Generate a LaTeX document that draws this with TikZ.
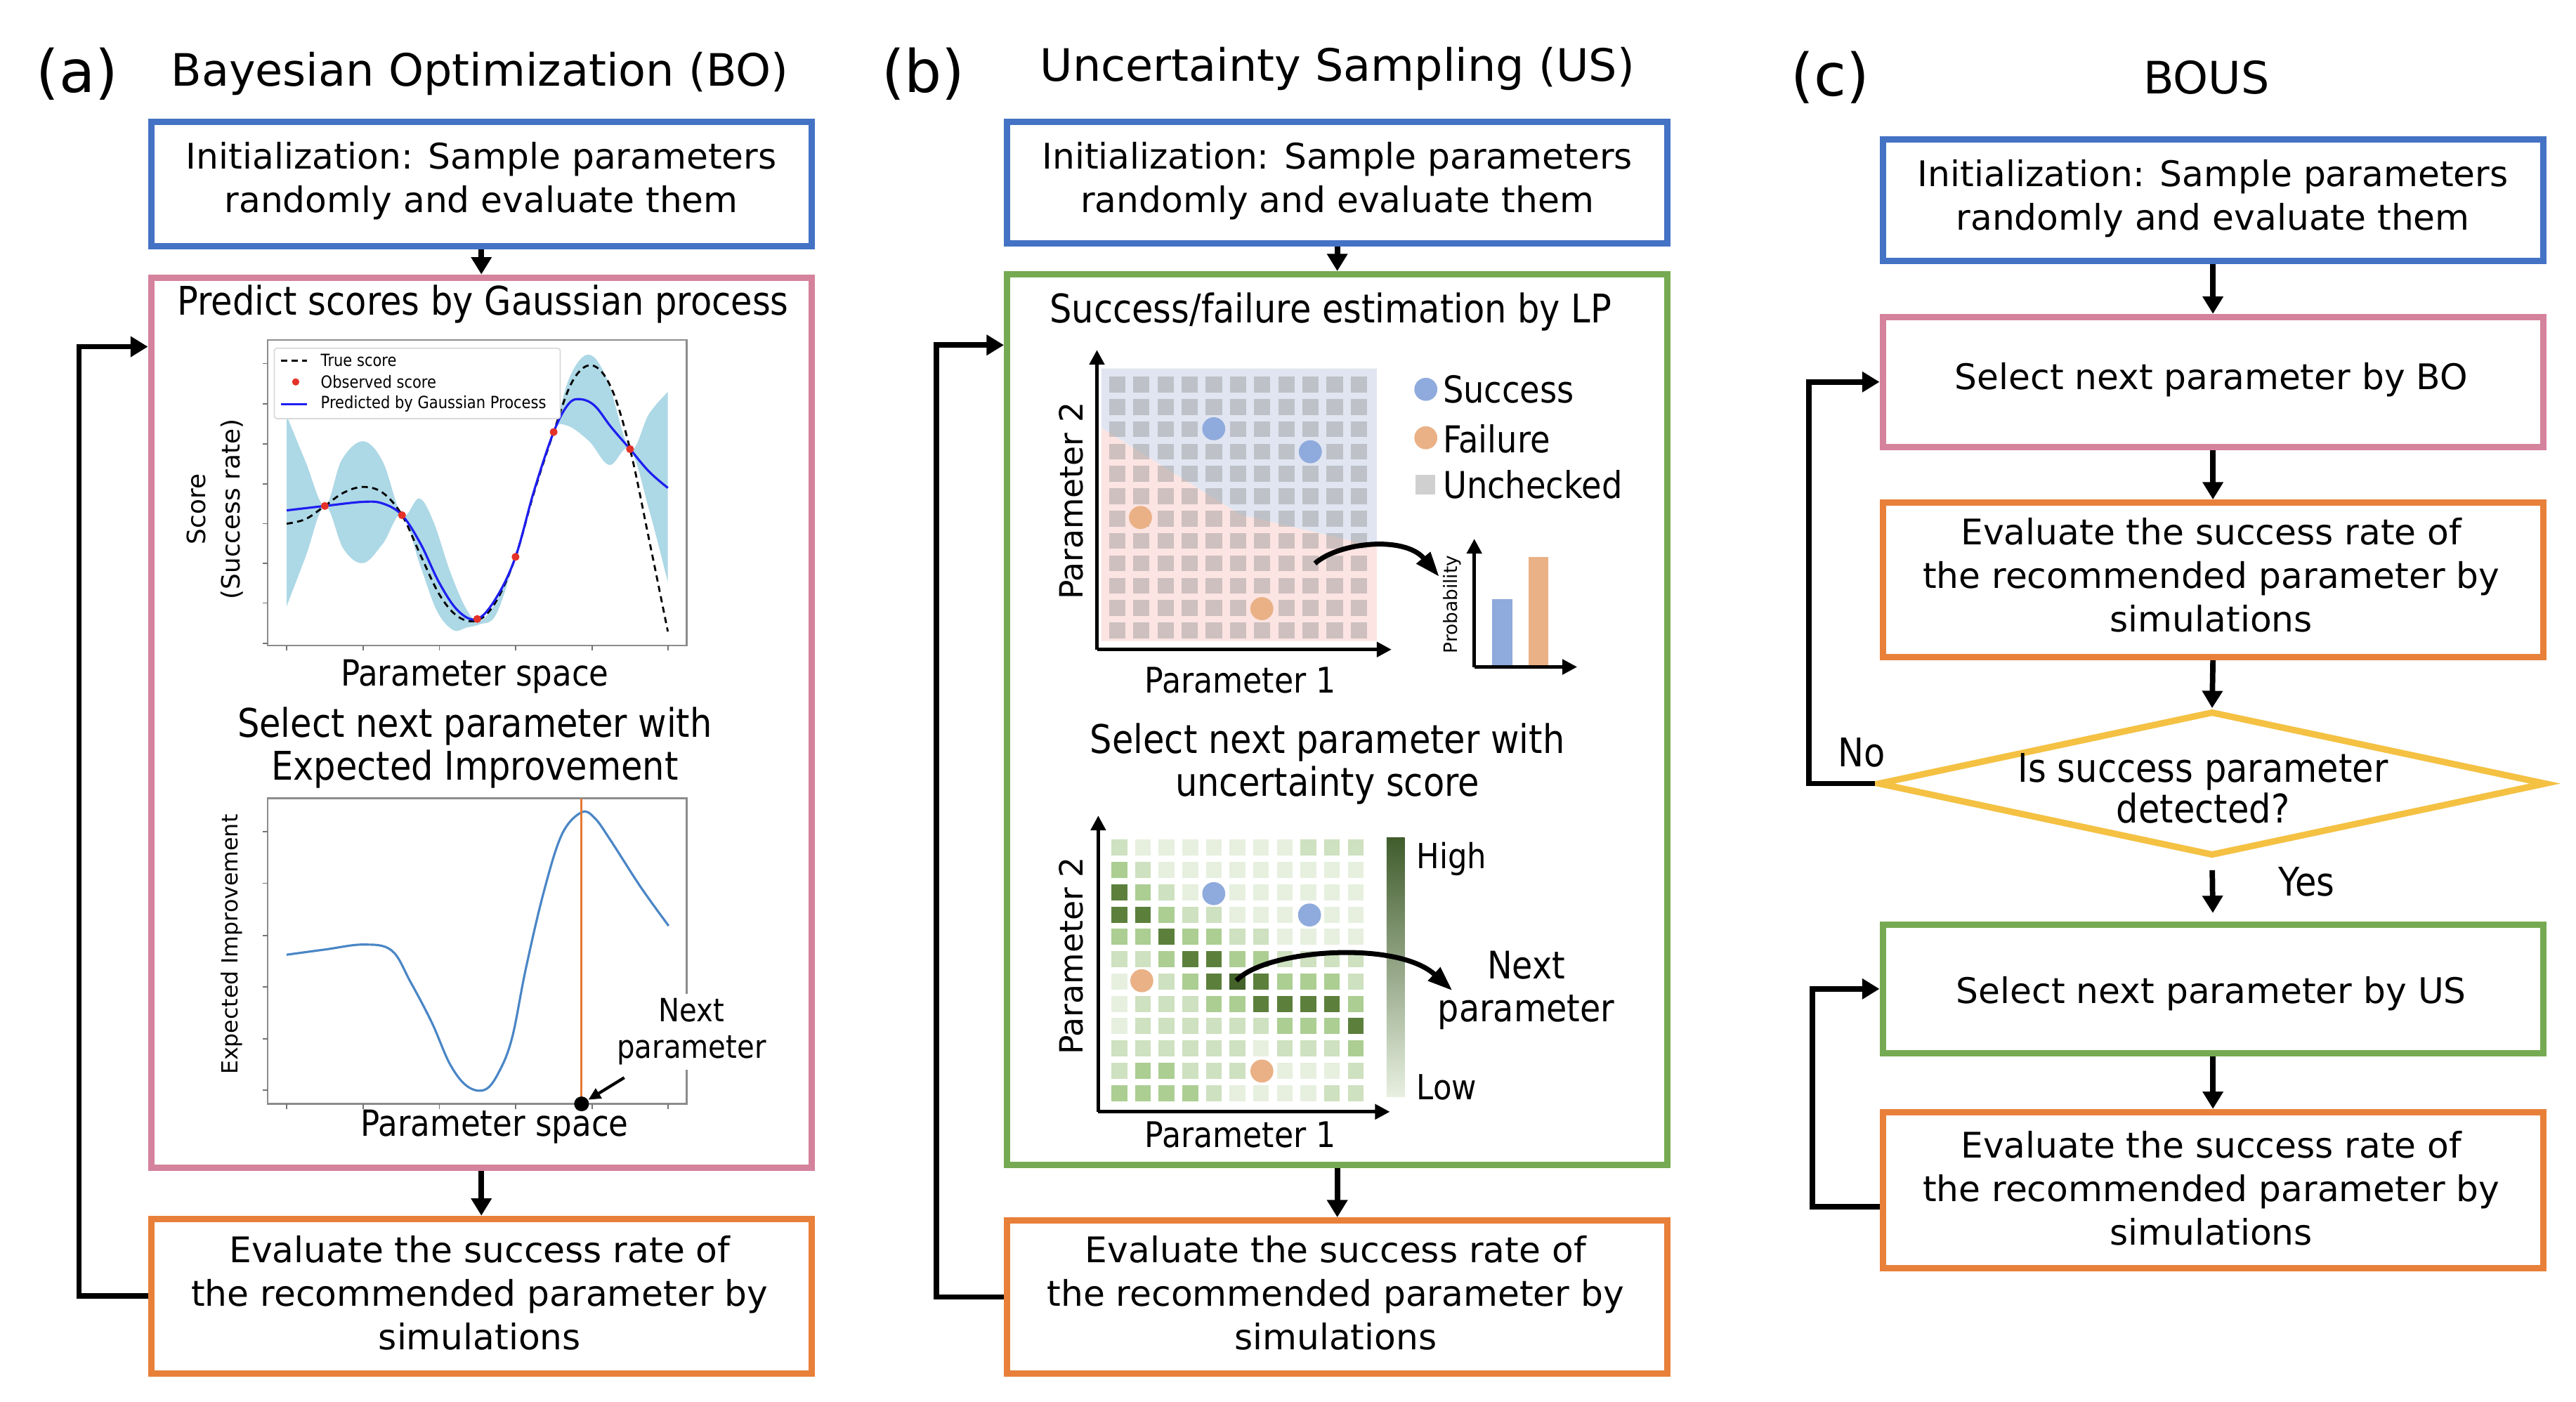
\documentclass[tikz,border=0pt]{standalone}
\usepackage{fontspec}
\setmainfont{DejaVu Sans}
\newfontfamily\tah[FakeStretch=0.88]{DejaVu Sans}
\usetikzlibrary{shapes.geometric,arrows.meta,fit,calc}
\newlength\pxu
\setlength\pxu{0.02339cm}
\newcommand\fsz[2]{\fontsize{#1}{#2}\selectfont}
\definecolor{cblue}{RGB}{68,114,196}
\definecolor{cpink}{RGB}{213,130,156}
\definecolor{cgreen}{RGB}{118,170,82}
\definecolor{corange}{RGB}{232,128,58}
\definecolor{cyellow}{RGB}{244,193,67}
\definecolor{bandc}{RGB}{173,216,230}
\definecolor{gpblue}{RGB}{30,30,240}
\definecolor{gpred}{RGB}{228,50,40}
\definecolor{eiblue}{RGB}{74,134,198}
\definecolor{eiorange}{RGB}{230,120,50}
\definecolor{bgblue}{RGB}{224,229,241}
\definecolor{bgpink}{RGB}{251,228,226}
\definecolor{sqgray}{RGB}{150,150,150}
\definecolor{sblue}{RGB}{143,170,220}
\definecolor{forange}{RGB}{234,177,134}
\definecolor{unch}{RGB}{208,208,208}
\definecolor{g0}{RGB}{231,240,223}
\definecolor{g1}{RGB}{206,225,192}
\definecolor{g2}{RGB}{172,206,146}
\definecolor{g3}{RGB}{92,128,60}
\definecolor{g4}{RGB}{68,99,42}
\definecolor{cbtop}{RGB}{64,92,44}
\definecolor{cbmid}{RGB}{112,160,72}
\definecolor{cbbot}{RGB}{232,240,225}
\tikzset{
  box/.style={draw, line width=2.6pt, inner sep=0pt},
  arr/.style={line width=2.2pt, -{Triangle[length=7pt,width=8pt]}},
  btxt/.style={align=center, inner sep=0pt, font=\fsz{14.3}{17.6}},
  ttxt/.style={align=center, inner sep=0pt, font=\tah\fsz{16}{17.3}},
  ttl/.style={inner sep=0pt, font=\fsz{18.1}{22}},
  plab/.style={inner sep=0pt, font=\fsz{23.8}{28}},
  frm/.style={draw=black!45, line width=0.7pt},
  tck/.style={black!55, line width=0.5pt},
  axisarr/.style={line width=1.4pt, -{Triangle[length=6pt,width=6pt]}},
  carr/.style={line width=2pt, -{Triangle[length=10pt,width=7pt]}},
  sdot/.style={circle, fill=sblue, minimum size=14*\pxu, inner sep=0pt},
  fdot/.style={circle, fill=forange, minimum size=14*\pxu, inner sep=0pt},
}
\begin{document}
\begin{tikzpicture}[x=0.02339cm,y=-0.02339cm]
\useasboundingbox (0,0) rectangle (1568,853.4);
\fill[white] (0,0) rectangle (1568,853.4);

% ---------------- titles
\node[plab] (la) at (47,45) {(a)};
\node[ttl] (ta) at (292,45) {Bayesian Optimization (BO)};
\node[plab] (lb) at (562,45) {(b)};
\node[ttl] (tb) at (814,42) {Uncertainty Sampling (US)};
\node[plab] (lc) at (1114,47) {(c)};
\node[ttl] (tc) at (1343,47) {BOUS};

% ---------------- panel (a)
\node[box, draw=cblue, fit={(92,74) (494,150)}] (ia) {};
\node[btxt] (iat) at (293,110) {Initialization: Sample parameters\\randomly and evaluate them};
\node[box, draw=cpink, fit={(92,169) (494,711)}] (pa) {};
\node[box, draw=corange, fit={(92,742) (494,836)}] (oa) {};
\node[btxt] (oat) at (292,787) {Evaluate the success rate of\\the recommended parameter by\\simulations};
\draw[arr] (ia.south) -- (pa.north);
\draw[arr] (pa.south) -- (oa.north);
\draw[arr] (oa.west) -- ++(-42,0) |- ($(pa.north west)+(0,44)$);

\node[ttxt] (pat1) at (294,185) {Predict scores by Gaussian process};
% plot 1
\fill[bandc] plot[smooth,tension=0.6] coordinates {(174.5,253) (186,281) (197.7,308) (208,280) (221,268.6) (233,281) (244.7,313.6) (255.2,303.4) (264,318) (274,348) (284,371) (292,378) (302,366) (313.8,339) (325,298) (337,263) (347,229) (358.6,215.9) (370,232) (383.5,273.4) (395,252) (406.5,238.6)}
  -- plot[smooth,tension=0.6] coordinates {(406.5,354.4) (395,310) (383.5,273.4) (370.9,283.1) (358.6,268.6) (345,259) (337,263) (325,300) (313.8,339) (302,374) (292,380) (284,382) (275.9,383.6) (266,372) (256,345) (244.7,313.6) (233,331) (221,342.8) (209,334) (197.7,308) (186,339) (174.5,369)} -- cycle;
\draw[frm] (163,207) rectangle (418,393);
\foreach \tx in {174.5,221,267.5,313.8,360.3,406.5} \draw[tck] (\tx,393) -- (\tx,396);
\foreach \ty in {221.3,245.9,270.2,294.5,318.8,342.8,367.1,391.7} \draw[tck] (163,\ty) -- (160,\ty);
\draw[black, line width=0.8pt, dash pattern=on 2.5pt off 1.8pt] plot[smooth,tension=0.6] coordinates {(174.5,318.8) (186,316) (197.7,308) (209,300) (221,296.4) (233,300) (244.7,313.6) (256,338) (267.5,362) (279,375.5) (291,377.5) (302,366) (313.8,339) (325,300) (337,263) (348.5,232) (360.3,222.4) (372,236) (383.5,273.4) (395,328) (406.5,384.4)};
\draw[gpblue, line width=0.9pt] plot[smooth,tension=0.6] coordinates {(174.5,310.7) (197.7,308) (221,305.5) (233,306.5) (244.7,313.6) (256,331) (267.5,355) (279,372) (290.5,376.8) (302,364) (313.8,339) (325,299) (337,263) (346,246) (353.2,243) (362,247) (372,260) (383.5,273.4) (395,287) (406.5,297)};
\foreach \p in {(197.7,308),(244.7,313.6),(290.5,376.8),(313.8,339),(337,263),(383.5,273.4)} \fill[gpred] \p circle (2.4);
\draw[black!15, fill=white, line width=0.5pt, rounded corners=1pt] (167,212) rectangle (341,254.8);
\draw[black, line width=0.8pt, dash pattern=on 2.5pt off 1.8pt] (171,219.5) -- (187,219.5);
\fill[gpred] (180,232.5) circle (2.2);
\draw[gpblue, line width=1pt] (171,246) -- (187,246);
\node[anchor=west, inner sep=0pt, font=\tah\fsz{6.8}{8}] (lg1) at (195,219.5) {True score};
\node[anchor=west, inner sep=0pt, font=\tah\fsz{6.8}{8}] (lg2) at (195,232.5) {Observed score};
\node[anchor=west, inner sep=0pt, font=\tah\fsz{6.8}{8}] (lg3) at (195,246) {Predicted by Gaussian Process};
\node[rotate=90, align=center, inner sep=0pt, font=\fsz{10.2}{14}] (ylab1) at (131,310) {Score\\(Success rate)};
\node[inner sep=0pt, font=\tah\fsz{14.6}{17}] (xlab1) at (289,412) {Parameter space};
\node[ttxt] (pat2) at (289,455) {Select next parameter with\\Expected Improvement};
% plot 2
\draw[frm] (163,486) rectangle (418,672);
\foreach \tx in {174.5,221,267.5,313.8,360.3,406.5} \draw[tck] (\tx,672) -- (\tx,675);
\foreach \ty in {506.3,537.7,569.4,600.6,632.3,663.7} \draw[tck] (163,\ty) -- (160,\ty);
\draw[eiblue, line width=0.9pt] plot[smooth,tension=0.6] coordinates {(174.4,581.2) (198,578) (221.2,575) (238.4,578.6) (250,598) (262.9,622.6) (274,648) (284.6,661.4) (295.5,663.2) (304,652) (311.8,631.4) (320,590) (330.9,543.3) (342,508) (354,494.5) (362,498) (371.7,511.6) (390,540) (407,563.6)};
\draw[eiorange, line width=0.9pt] (354,486) -- (354,672);
\node[circle, fill=black, minimum size=9*\pxu, inner sep=0pt] (nd) at (354,672) {};
\node[fill=white, align=center, inner sep=2pt, font=\tah\fsz{13}{14.6}] (nlab) at (421,628) {Next\\parameter};
\coordinate (nA) at (380,656);
\draw[line width=1.2pt, -{Triangle[length=5pt,width=4.5pt]}] (nA) -- (nd);
\node[rotate=90, inner sep=0pt, font=\fsz{9}{11}] (ylab2) at (141,575) {Expected Improvement};
\node[inner sep=0pt, font=\tah\fsz{14.6}{17}] (xlab2) at (301,686) {Parameter space};

% ---------------- panel (b)
\node[box, draw=cblue, fit={(613,74) (1015,148)}] (ib) {};
\node[btxt] (ibt) at (814,110) {Initialization: Sample parameters\\randomly and evaluate them};
\node[box, draw=cgreen, fit={(613,167) (1015,709)}] (gb) {};
\node[box, draw=corange, fit={(613,743) (1015,836)}] (ob) {};
\node[btxt] (obt) at (813,787) {Evaluate the success rate of\\the recommended parameter by\\simulations};
\draw[arr] (ib.south) -- (gb.north);
\draw[arr] (gb.south) -- (ob.north);
\draw[arr] (ob.west) -- ++(-41,0) |- ($(gb.north west)+(0,45)$);

\node[ttxt] (gbt1) at (810,190) {Success/failure estimation by LP};
% grid 1
\fill[bgblue] (670.4,224.3) -- (838,224.3) -- (838,332.8) -- (755.2,313.4) -- (670.4,260.5) -- cycle;
\fill[bgpink] (670.4,260.5) -- (755.2,313.4) -- (838,332.8) -- (838,390.2) -- (670.4,390.2) -- cycle;
\foreach \i in {0,...,10} \foreach \j in {0,...,11}
  \fill[sqgray, fill opacity=0.45] (675.1+\i*14.71, 229.3+\j*13.6) rectangle ++(9.9,9.6);
\draw[axisarr] (667.7,395.4) -- (667.7,213);
\draw[axisarr] (667.7,395.4) -- (847,395.4);
\node[sdot] (s1) at (738.8,261) {};
\node[sdot] (s2) at (797.6,275) {};
\node[fdot] (f1) at (694.2,315) {};
\node[fdot] (f2) at (768.1,370.5) {};
\node[sdot] (ls) at (867.9,237) {};
\node[fdot] (lf) at (867.9,266.5) {};
\node[fill=unch, minimum size=12*\pxu, inner sep=0pt] (lu) at (867.5,295) {};
\node[anchor=west, inner sep=0pt, font=\tah\fsz{15}{17}] (lst) at (878,237) {Success};
\node[anchor=west, inner sep=0pt, font=\tah\fsz{15}{17}] (lft) at (878,267) {Failure};
\node[anchor=west, inner sep=0pt, font=\tah\fsz{15}{17}] (lut) at (878,295) {Unchecked};
\node[rotate=90, inner sep=0pt, font=\fsz{13}{15}] (p2a) at (652,305) {Parameter 2};
\node[inner sep=0pt, font=\tah\fsz{14.3}{17}] (p1a) at (755,414) {Parameter 1};
% small bar chart
\fill[sblue] (908.4,364.6) rectangle (920.7,406);
\fill[forange] (930.3,339) rectangle (942.6,406);
\draw[axisarr] (897.4,406) -- (897.4,328);
\draw[axisarr] (897.4,406) -- (960,406);
\node[rotate=90, inner sep=0pt, font=\fsz{7.5}{9}] (prob) at (884,368) {Probability};
\coordinate (c1s) at (800.4,343);
\coordinate (c1t) at (876,351);
\draw[carr] (c1s) .. controls (815,330) and (855,326) .. (c1t);

\node[ttxt] (gbt2) at (808,465) {Select next parameter with\\uncertainty score};
% grid 2
\foreach \row [count=\j from 0] in {{1,0,0,0,0,0,0,0,1,1,1},{2,1,0,0,0,0,0,0,0,0,0},{3,2,1,0,0,0,0,0,0,0,0},{3,3,2,1,1,0,0,0,0,0,0},{2,2,3,2,2,1,1,0,0,0,0},{1,1,2,3,3,2,2,1,1,1,1},{0,0,1,2,3,4,3,2,2,2,1},{0,1,1,1,2,2,3,3,3,3,2},{0,1,1,1,1,1,1,2,2,2,3},{1,1,1,1,1,1,0,1,1,1,2},{1,2,2,1,1,1,0,0,0,0,1},{2,2,2,2,1,0,0,0,0,1,1}}{
  \foreach \c [count=\i from 0] in \row {
    \fill[g\c] (676.5+\i*14.39, 511.1+\j*13.58) rectangle ++(9.6,9.8);
  }
}
\draw[axisarr] (668.5,676.8) -- (668.5,496.5);
\draw[axisarr] (668.5,676.8) -- (846,676.8);
\node[sdot] (s3) at (738.8,544) {};
\node[sdot] (s4) at (797.1,557) {};
\node[fdot] (f3) at (695,597) {};
\node[fdot] (f4) at (768.1,652) {};
\shade[top color=cbtop, middle color=cbmid, bottom color=cbbot] (844,509.8) rectangle (855,667.8);
\node[anchor=west, inner sep=0pt, font=\tah\fsz{14}{16}] (hi) at (862,523) {High};
\node[anchor=west, inner sep=0pt, font=\tah\fsz{14}{16}] (lo) at (862,662) {Low};
\node[align=center, inner sep=0pt, font=\tah\fsz{15.4}{17.3}] (nxt) at (929,603) {Next\\parameter};
\coordinate (c2s) at (752.5,597);
\coordinate (c2t) at (884,603);
\draw[carr] (c2s) .. controls (770,578) and (850,572) .. (c2t);
\node[rotate=90, inner sep=0pt, font=\fsz{13}{15}] (p2b) at (652,582) {Parameter 2};
\node[inner sep=0pt, font=\tah\fsz{14.3}{17}] (p1b) at (755,691) {Parameter 1};

% ---------------- panel (c)
\node[box, draw=cblue, fit={(1146,85) (1548,159)}] (ic) {};
\node[btxt] (ict) at (1347,121) {Initialization: Sample parameters\\randomly and evaluate them};
\node[box, draw=cpink, fit={(1146,193) (1548,272)}] (pc) {};
\node[btxt] (pct) at (1346,231) {Select next parameter by BO};
\node[box, draw=corange, fit={(1146,306) (1548,400)}] (oc) {};
\node[btxt] (oct) at (1346,350) {Evaluate the success rate of\\the recommended parameter by\\simulations};
\node[diamond, draw=cyellow, line width=2.6pt, minimum width=407*\pxu, minimum height=88*\pxu, inner sep=0pt] (dia) at (1346.5,477) {};
\node[ttxt, font=\tah\fsz{16}{16.5}] (diat) at (1341,480) {Is success parameter\\detected?};
\node[box, draw=cgreen, fit={(1146,563) (1548,641)}] (gc) {};
\node[btxt] (gct) at (1346,605) {Select next parameter by US};
\node[box, draw=corange, fit={(1146,677) (1548,772)}] (oc2) {};
\node[btxt] (oc2t) at (1346,723.5) {Evaluate the success rate of\\the recommended parameter by\\simulations};
\draw[arr] (ic.south) -- (pc.north);
\draw[arr] (pc.south) -- (oc.north);
\draw[arr] (oc.south) -- (dia.north);
\draw[arr, shorten <=4.5pt, shorten >=3.5pt] (dia.south) -- (gc.north);
\draw[arr] (gc.south) -- (oc2.north);
\draw[arr] (dia.west) -- ++(-40,0) |- (pc.west);
\draw[arr] ($(oc2.west)+(0,10)$) -- ++(-41,0) |- (gc.west);
\node[inner sep=0pt, font=\tah\fsz{16}{18}] (no) at (1133,458) {No};
\node[inner sep=0pt, font=\tah\fsz{16}{18}] (yes) at (1404,537) {Yes};
\end{tikzpicture}
\end{document}
